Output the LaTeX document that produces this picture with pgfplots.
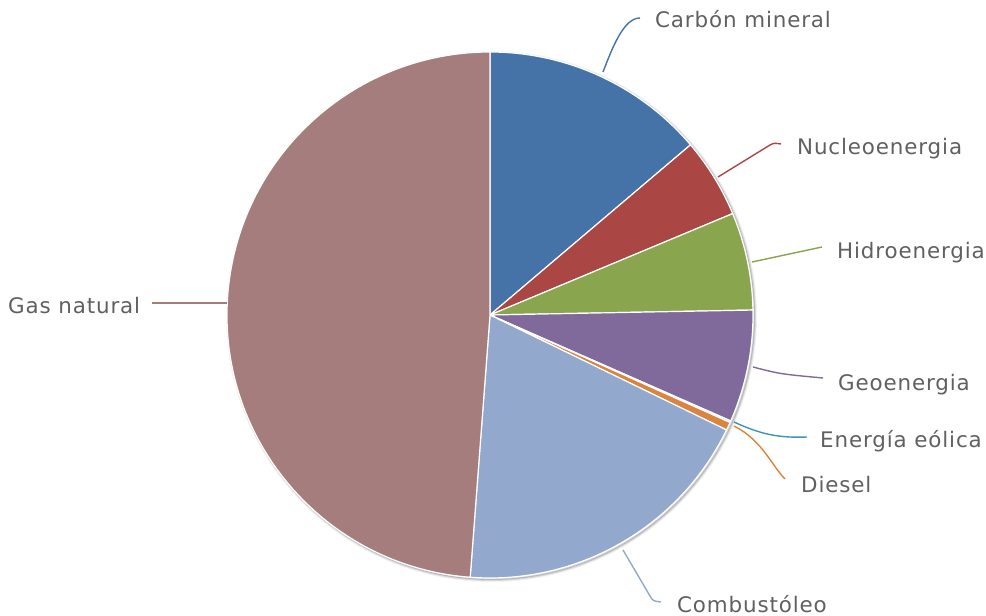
\documentclass[border=0pt]{standalone}
\usepackage{pgfplots}
\pgfplotsset{compat=1.18}
\usepackage{pgfplotstable}
\usepackage{fontspec}
\setmainfont[LetterSpace=4]{DejaVu Sans}
\definecolor{c0}{HTML}{4572A7}
\definecolor{c1}{HTML}{AA4643}
\definecolor{c2}{HTML}{89A54E}
\definecolor{c3}{HTML}{80699B}
\definecolor{c4}{HTML}{3D96AE}
\definecolor{c5}{HTML}{DB843D}
\definecolor{c6}{HTML}{92A8CD}
\definecolor{c7}{HTML}{A47D7C}
\definecolor{txt}{HTML}{606060}

\pgfplotstableread[col sep=comma]{
label,value
Carbón mineral,13.8
Nucleoenergia,4.9
Hidroenergia,6.0
Geoenergia,6.9
Energía eólica,0.1
Diesel,0.5
Combustóleo,19.0
Gas natural,48.8
}\piedata

\begin{document}
\begin{tikzpicture}
\begin{axis}[x=1bp,y=1bp,xmin=0,xmax=986,ymin=0,ymax=616,
  hide axis,clip=false,anchor=origin,at={(0,0)}]
\pgfplotsextra{%
  % soft shadow
  \draw[black,opacity=0.05,line width=5bp] ([shift={(1.5bp,-1.5bp)}]axis cs:490,301) circle[radius=263bp];
  \draw[black,opacity=0.10,line width=3bp] ([shift={(1.5bp,-1.5bp)}]axis cs:490,301) circle[radius=263bp];
  \draw[black,opacity=0.15,line width=1bp] ([shift={(1.5bp,-1.5bp)}]axis cs:490,301) circle[radius=263bp];
  \xdef\cum{90}%
  \pgfplotstableforeachcolumnelement{value}\of\piedata\as\v{%
    \pgfmathsetmacro\a{\cum-3.6*\v}%
    \filldraw[fill=c\pgfplotstablerow,draw=white,line width=1.2bp,line join=round]
      (axis cs:490,301) -- ++(\cum:263bp) arc[start angle=\cum,end angle=\a,radius=263bp] -- cycle;%
    \xdef\cum{\a}%
  }%
}
% connectors
\begin{scope}[line width=1.4bp]
\draw[c0] (axis cs:603,544) .. controls (axis cs:613,570) and (axis cs:624,598) .. (axis cs:640,598);
\draw[c1] (axis cs:718,439) -- (axis cs:770,471) .. controls (axis cs:774,473) .. (axis cs:781,472);
\draw[c2] (axis cs:752,354) -- (axis cs:822,369);
\draw[c3] (axis cs:753,249) .. controls (axis cs:780,242) .. (axis cs:823,238);
\draw[c4] (axis cs:734,194) .. controls (axis cs:762,181) and (axis cs:780,178) .. (axis cs:807,179);
\draw[c5] (axis cs:734,190) .. controls (axis cs:762,176) and (axis cs:772,150) .. (axis cs:785,137);
\draw[c6] (axis cs:623,66) -- (axis cs:650,20) .. controls (axis cs:653,15) .. (axis cs:661,14);
\draw[c7] (axis cs:152,313) -- (axis cs:227,313);
\end{scope}
% labels
\begin{scope}[every node/.style={anchor=base west,inner sep=0pt,text=txt,font=\fontsize{21.5}{24}\selectfont}]
\node at (axis cs:655,588) {Carbón mineral};
\node at (axis cs:797,461) {Nucleoenergia};
\node at (axis cs:837,358) {Hidroenergia};
\node at (axis cs:838,226) {Geoenergia};
\node at (axis cs:820,169) {Energía eólica};
\node at (axis cs:801,124) {Diesel};
\node at (axis cs:677,4) {Combustóleo};
\node at (axis cs:8,303) {Gas natural};
\end{scope}
\end{axis}
\pgfresetboundingbox
\useasboundingbox (0,0) rectangle (986bp,616bp);
\end{tikzpicture}
\end{document}
